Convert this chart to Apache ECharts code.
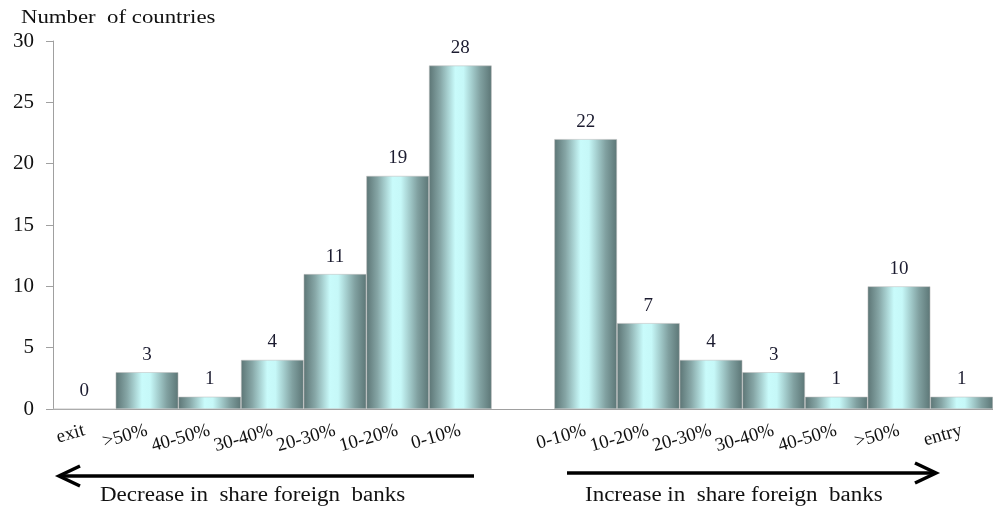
<!DOCTYPE html>
<html>
<head>
<meta charset="utf-8">
<script src="https://cdn.jsdelivr.net/npm/echarts@6/dist/echarts.min.js"></script>
<style>html,body{margin:0;padding:0;background:#fff;}#c{width:993px;height:510px;}</style>
</head>
<body>
<div id="c"></div>
<script>
const categories = ['exit', '>50%', '40-50%', '30-40%', '20-30%', '10-20%', '0-10%', '', '0-10%', '10-20%', '20-30%', '30-40%', '40-50%', '>50%', 'entry'];
const countries = [0, 3, 1, 4, 11, 19, 28, null, 22, 7, 4, 3, 1, 10, 1];
const yTicks = { min: 0, max: 30, interval: 5 };
const titleText = 'Number  of countries';
const leftNote = 'Decrease in  share foreign  banks';
const rightNote = 'Increase in  share foreign  banks';

const FONT = '"Liberation Serif", "Times New Roman", serif';
const chart = echarts.init(document.getElementById('c'), null, { renderer: 'canvas' });
const barGrad = new echarts.graphic.LinearGradient(0, 0, 1, 0, [
  { offset: 0, color: '#5c7575' },
  { offset: 0.18, color: '#86a6a6' },
  { offset: 0.42, color: '#c9fbfb' },
  { offset: 0.55, color: '#c6f8f8' },
  { offset: 0.82, color: '#80a0a0' },
  { offset: 1, color: '#5c7676' }
]);
chart.setOption({
  animation: false,
  grid: { left: 53, top: 41, width: 942, height: 368, containLabel: false },
  xAxis: {
    type: 'category',
    data: categories,
    axisLine: { lineStyle: { color: '#a0a0a0', width: 1 } },
    axisTick: { length: 6, lineStyle: { color: '#a0a0a0' } },
    axisLabel: { rotate: 16, margin: 21, fontFamily: FONT, fontSize: 19, color: '#111', interval: 0 }
  },
  yAxis: {
    type: 'value',
    min: yTicks.min, max: yTicks.max, interval: yTicks.interval,
    axisLine: { show: true, lineStyle: { color: '#a0a0a0', width: 1 } },
    axisTick: { show: true, length: 7, lineStyle: { color: '#a0a0a0' } },
    splitLine: { show: false },
    axisLabel: { margin: 19, fontFamily: FONT, fontSize: 21, color: '#111' }
  },
  series: [{
    type: 'bar',
    data: countries,
    barCategoryGap: '0%',
    itemStyle: { color: barGrad, borderColor: 'rgba(190,190,190,0.9)', borderWidth: 0.6 },
    label: { show: true, position: 'top', distance: 8, fontFamily: FONT, fontSize: 19, color: '#1c1c30' }
  }],
  graphic: [
    { type: 'text', x: 21, y: 9, scaleX: 1.2, style: { text: titleText, font: '19px ' + FONT, fill: '#111' } },
    { type: 'line', shape: { x1: 60, y1: 476, x2: 474, y2: 476 }, style: { stroke: '#000', lineWidth: 3.5 } },
    { type: 'polyline', shape: { points: [[80, 466], [59, 476], [80, 486]] }, style: { stroke: '#000', lineWidth: 3.5, fill: null } },
    { type: 'line', shape: { x1: 567, y1: 473, x2: 935, y2: 473 }, style: { stroke: '#000', lineWidth: 3.5 } },
    { type: 'polyline', shape: { points: [[915, 463], [936, 473], [915, 483]] }, style: { stroke: '#000', lineWidth: 3.5, fill: null } },
    { type: 'text', x: 100, y: 486, scaleX: 1.15, style: { text: leftNote, font: '20px ' + FONT, fill: '#111' } },
    { type: 'text', x: 585, y: 486, scaleX: 1.15, style: { text: rightNote, font: '20px ' + FONT, fill: '#111' } }
  ]
});
</script>
</body>
</html>
